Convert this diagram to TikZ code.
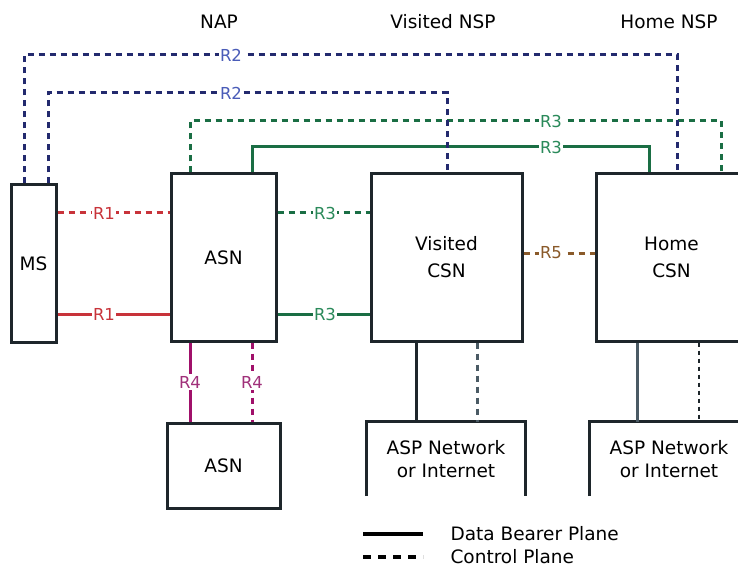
\documentclass[tikz,border=0pt]{standalone}
\usepackage{fontspec}
\setmainfont{DejaVu Sans}
\usetikzlibrary{calc}
\definecolor{boxc}{HTML}{1E262B}
\definecolor{navy}{HTML}{232A6E}
\definecolor{navyt}{HTML}{4A5CB8}
\definecolor{grn}{HTML}{1A6E44}
\definecolor{grnt}{HTML}{2A8A5A}
\definecolor{redc}{HTML}{C8333A}
\definecolor{mag}{HTML}{A0106A}
\definecolor{magt}{HTML}{A0307A}
\definecolor{brn}{HTML}{8A5A2A}
\definecolor{gryc}{HTML}{4A5A64}
\tikzset{
  boxn/.style={draw=boxc, line width=3pt, inner sep=0pt, align=center, font=\fontsize{18.5}{27}\selectfont},
  openbox/.style={inner sep=0pt, align=center, font=\fontsize{18.5}{23}\selectfont},
  lab/.style={fill=white, inner sep=1.5pt, font=\fontsize{16.5}{18}\selectfont},
  ctl/.style={line width=3pt, dash pattern=on 6pt off 5pt},
  dat/.style={line width=3pt},
  hdr/.style={font=\fontsize{18.5}{20}\selectfont},
}
\begin{document}
\begin{tikzpicture}[x=1pt,y=-1pt]
\useasboundingbox (0,0) rectangle (738,569);
% headers
\node[hdr] (hnap) at (219,22) {NAP};
\node[hdr] (hvnsp) at (443,22) {Visited NSP};
\node[hdr] (hhnsp) at (669,22) {Home NSP};
% boxes
\node[boxn, minimum width=45pt, minimum height=157pt] (ms) at (33.5,263.5) {MS};
\node[boxn, minimum width=105pt, minimum height=167pt] (asn) at (223.5,257.5) {ASN};
\node[boxn, minimum width=151pt, minimum height=167pt] (vcsn) at (446.5,257.5) {Visited\\CSN};
\node[boxn, minimum width=151pt, minimum height=167pt] (hcsn) at (671.5,257.5) {Home\\CSN};
\node[boxn, minimum width=113pt, minimum height=85pt] (asnb) at (223.5,465.5) {ASN};
\node[openbox, minimum width=158pt, minimum height=74pt] (aspv) at (446,459) {ASP Network\\or Internet};
\node[openbox, minimum width=158pt, minimum height=74pt] (asph) at (669,459) {ASP Network\\or Internet};
\draw[boxc, line width=3pt] (aspv.south west) -- (aspv.north west) -- (aspv.north east) -- (aspv.south east);
\draw[boxc, line width=3pt] (asph.south west) -- (asph.north west) -- (asph.north east) -- (asph.south east);
% level coordinates
\coordinate (yR2o) at (0,55);
\coordinate (yR2i) at (0,93);
\coordinate (yR3d) at (0,121);
\coordinate (yR3s) at (0,147);
\coordinate (xR2o1) at (24,0);
\coordinate (xR2o2) at (677,0);
\coordinate (xR2i1) at (48,0);
\coordinate (xR2i2) at (447,0);
\coordinate (xR3d1) at (190,0);
\coordinate (xR3d2) at (721,0);
\coordinate (xR3s1) at (252,0);
\coordinate (xR3s2) at (649,0);
\coordinate (yC) at (0,213);
\coordinate (yD) at (0,314);
\coordinate (yR5) at (0,253);
\coordinate (xR4s) at (190,0);
\coordinate (xR4d) at (252,0);
\coordinate (xVs) at (416,0);
\coordinate (xVd) at (477,0);
\coordinate (xHs) at (637,0);
\coordinate (xHd) at (699,0);
% R3 overhead (green)
\draw[ctl, grn] (asn.north -| xR3d1) |- (yR3d -| xR3d2) -- (hcsn.north -| xR3d2);
\draw[dat, grn] (asn.north -| xR3s1) |- (yR3s -| xR3s2) -- (hcsn.north -| xR3s2);
% R2 overhead (blue)
\draw[ctl, navy] (ms.north -| xR2o1) |- (yR2o -| xR2o2) -- (hcsn.north -| xR2o2);
\draw[ctl, navy] (ms.north -| xR2i1) |- (yR2i -| xR2i2) -- (vcsn.north -| xR2i2);
% R1
\draw[ctl, redc] (ms.east |- yC) -- (asn.west |- yC);
\draw[dat, redc] (ms.east |- yD) -- (asn.west |- yD);
% R3 ASN - visited CSN
\draw[ctl, grn] (asn.east |- yC) -- (vcsn.west |- yC);
\draw[dat, grn] (asn.east |- yD) -- (vcsn.west |- yD);
% R5
\draw[ctl, brn] (vcsn.east |- yR5) -- (hcsn.west |- yR5);
% R4
\draw[dat, mag] (asn.south -| xR4s) -- (asnb.north -| xR4s);
\draw[ctl, mag] (asn.south -| xR4d) -- (asnb.north -| xR4d);
% CSN to ASP
\draw[dat, boxc] (vcsn.south -| xVs) -- (aspv.north -| xVs);
\draw[ctl, gryc] (vcsn.south -| xVd) -- (aspv.north -| xVd);
\draw[dat, gryc] (hcsn.south -| xHs) -- (asph.north -| xHs);
\draw[line width=2pt, boxc, dash pattern=on 4pt off 4pt] (hcsn.south -| xHd) -- (asph.north -| xHd);
% labels
\node[lab, text=navyt] (lR2o) at (231,55) {R2};
\node[lab, text=navyt] (lR2i) at (231,93) {R2};
\node[lab, text=grnt] (lR3d) at (551,121) {R3};
\node[lab, text=grnt] (lR3s) at (551,147) {R3};
\node[lab, text=redc] (lR1d) at (104,213) {R1};
\node[lab, text=redc] (lR1s) at (104,314) {R1};
\node[lab, text=grnt] (lR3c) at (325,213) {R3};
\node[lab, text=grnt] (lR3e) at (325,314) {R3};
\node[lab, text=brn] (lR5) at (551,253) {R5};
\node[lab, text=magt] (lR4s) at (190,382) {R4};
\node[lab, text=magt] (lR4d) at (252,382) {R4};
% legend
\coordinate (lg1a) at (363,534);
\coordinate (lg1b) at (423,534);
\coordinate (lg2a) at (363,557);
\coordinate (lg2b) at (423,557);
\draw[line width=4pt, black] (lg1a) -- (lg1b);
\draw[line width=4pt, black, dash pattern=on 8pt off 7pt] (lg2a) -- (lg2b);
\node[hdr, anchor=west] (lgt1) at (447,534) {Data Bearer Plane};
\node[hdr, anchor=west] (lgt2) at (447,557) {Control Plane};
\end{tikzpicture}
\end{document}
